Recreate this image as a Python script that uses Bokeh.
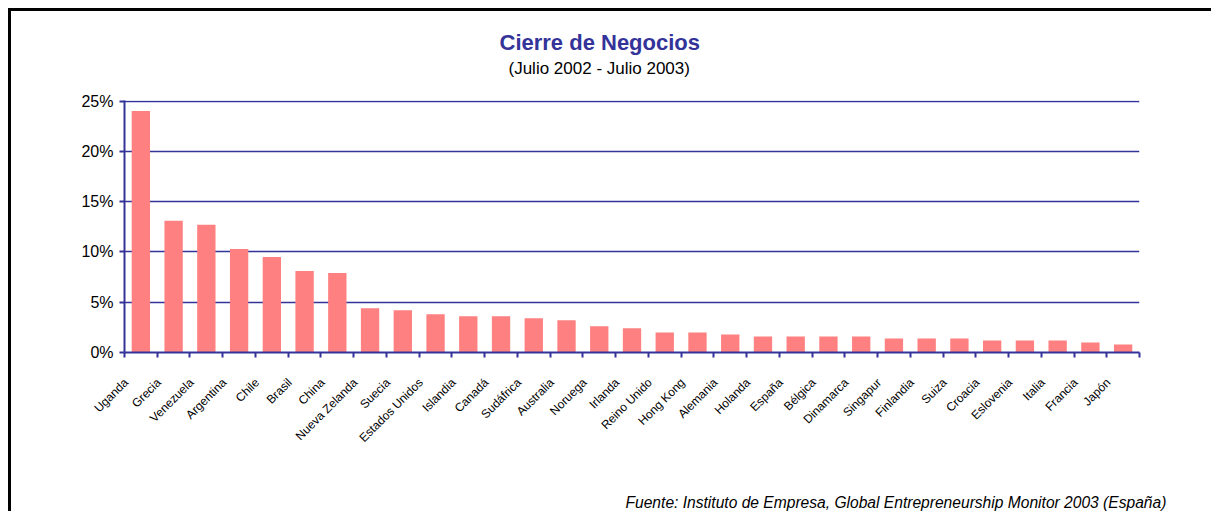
import math
from bokeh.plotting import figure
from bokeh.models import (Range1d, FixedTicker, LinearAxis, Grid, Title,
                          PrintfTickFormatter, CustomJSTickFormatter, ColumnDataSource)
from bokeh.embed import file_html
from bokeh.resources import INLINE

countries = ["Uganda", "Grecia", "Venezuela", "Argentina", "Chile", "Brasil", "China",
             "Nueva Zelanda", "Suecia", "Estados Unidos", "Islandia", "Canadá", "Sudáfrica",
             "Australia", "Noruega", "Irlanda", "Reino Unido", "Hong Kong", "Alemania",
             "Holanda", "España", "Bélgica", "Dinamarca", "Singapur", "Finlandia", "Suiza",
             "Croacia", "Eslovenia", "Italia", "Francia", "Japón"]
values = [24.0, 13.1, 12.7, 10.3, 9.5, 8.1, 7.9, 4.4, 4.2, 3.8, 3.6, 3.6, 3.4,
          3.2, 2.6, 2.4, 2.0, 2.0, 1.8, 1.6, 1.6, 1.6, 1.6, 1.4, 1.4, 1.4,
          1.2, 1.2, 1.2, 1.0, 0.8]
y_ticks = [0, 5, 10, 15, 20, 25]

title_text = "Cierre de Negocios"
subtitle_text = "(Julio 2002 - Julio 2003)"
footer_text = "Fuente: Instituto de Empresa, Global Entrepreneurship Monitor 2003 (España)"

BLUE = "#333399"
BAR = "#FF8080"
FONT = "Liberation Sans"

n = len(countries)
centers = [i + 0.5 for i in range(n)]
label_pos = [i + 0.05 for i in range(n)]
bounds = [float(i) for i in range(n + 1)]

# layout (pixels); canvas origin sits at page (11, 11)
ML, MT, FW, FH = 113, 89, 1015, 252
W, H = 1200, 500
MR = W - ML - FW
MB = H - MT - FH
Y_END = 25.05

p = figure(frame_width=FW, frame_height=FH, output_backend="svg", toolbar_location=None,
           x_range=Range1d(0, n), y_range=Range1d(0, Y_END),
           x_axis_type=None, y_axis_type=None,
           min_border_left=ML, min_border_right=MR, min_border_top=MT, min_border_bottom=MB,
           background_fill_color="white", border_fill_color="white")
p.outline_line_color = None
p.styles = {"margin-left": "8px", "margin-top": "8px", "margin-bottom": "-8px",
            "vertical-align": "top", "box-sizing": "content-box",
            "border-top": "3px solid black", "border-left": "3px solid black"}

src = ColumnDataSource(dict(x=centers, top=values, name=countries))
p.vbar(x="x", top="top", width=0.56, source=src, fill_color=BAR, line_color=None)

yticker = FixedTicker(ticks=y_ticks)
yaxis = LinearAxis(ticker=yticker, formatter=PrintfTickFormatter(format="%d%%"))
yaxis.axis_line_color = BLUE
yaxis.axis_line_width = 2
yaxis.major_tick_line_color = BLUE
yaxis.major_tick_line_width = 2
yaxis.major_tick_out = 5
yaxis.major_tick_in = 0
yaxis.minor_tick_line_color = None
yaxis.major_label_text_font = FONT
yaxis.major_label_text_font_size = "16px"
yaxis.major_label_text_color = "black"
yaxis.major_label_standoff = 6
p.add_layout(yaxis, "left")

p.add_layout(Grid(dimension=1, ticker=yticker, grid_line_color=BLUE, grid_line_width=1.5))

xticker = FixedTicker(ticks=label_pos, minor_ticks=bounds)
xaxis = LinearAxis(ticker=xticker,
                   formatter=CustomJSTickFormatter(args=dict(names=countries),
                                                   code="return names[Math.floor(tick)] || '';"))
xaxis.axis_line_color = BLUE
xaxis.axis_line_width = 2
xaxis.major_tick_line_color = None
xaxis.major_tick_out = 0
xaxis.major_tick_in = 0
xaxis.minor_tick_line_color = BLUE
xaxis.minor_tick_line_width = 2
xaxis.minor_tick_out = 5
xaxis.minor_tick_in = 0
xaxis.major_label_orientation = math.pi / 4
xaxis.major_label_text_font = FONT
xaxis.major_label_text_font_size = "12px"
xaxis.major_label_text_color = "black"
xaxis.major_label_standoff = 23
p.add_layout(xaxis, "below")

# titles (first "above" item sits closest to the frame); blank lines act as spacing
p.add_layout(Title(text=subtitle_text + "\n ", align="left", offset=384, standoff=8,
                   text_font=FONT, text_font_size="17px", text_font_style="normal",
                   text_color="black"), "above")
p.add_layout(Title(text=title_text, align="left", offset=375, standoff=-4,
                   text_font=FONT, text_font_size="22px", text_font_style="bold",
                   text_color=BLUE), "above")
p.add_layout(Title(text=" \n \n" + footer_text, align="left", offset=501, standoff=10,
                   text_font=FONT, text_font_size="15.6px", text_font_style="italic",
                   text_color="black"), "below")

open("out.html", "w").write(file_html(p, INLINE))
